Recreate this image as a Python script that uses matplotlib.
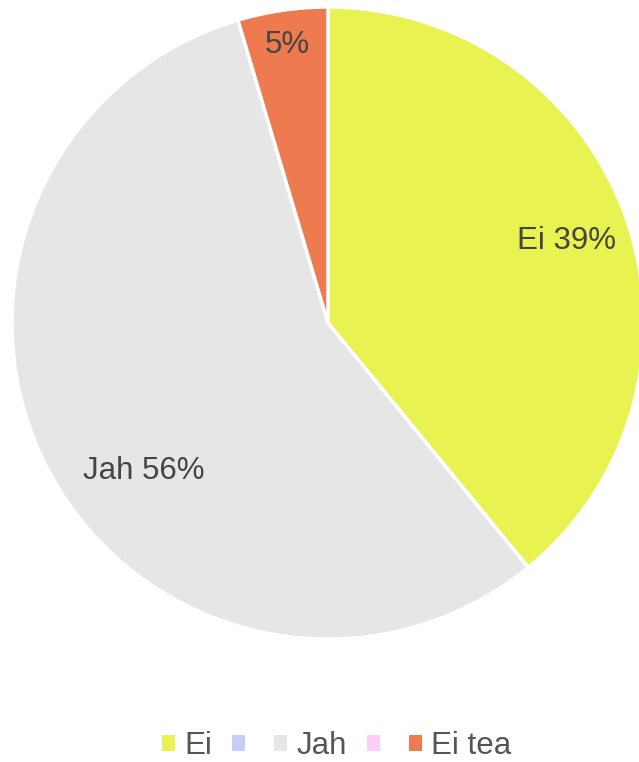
import matplotlib.pyplot as plt
import numpy as np
from matplotlib.patches import Patch

plt.rcParams['font.family'] = ['Liberation Sans', 'DejaVu Sans']

labels = ['Ei', '', 'Jah', '', 'Ei tea']
counts = [34, 0, 49, 0, 4]
colors = ['#e8f251', '#c5cefb', '#e6e6e6', '#fdcefc', '#ee7a4f']
# label distance from centre, as a fraction of the radius
label_r = [0.8, 0.8, 0.74, 0.8, 0.9]
# where along the slice the label sits (0.5 = middle)
label_f = [0.5, 0.5, 0.55, 0.5, 0.5]

fig = plt.figure(figsize=(6.39, 7.62), dpi=100)
ax = fig.add_axes([12/639, 123/762, 632/639, 632/762])

total = float(sum(counts))
wedges, _ = ax.pie(counts, colors=colors, startangle=90, counterclock=False,
                   radius=1, wedgeprops=dict(edgecolor='white', linewidth=2.5))

for i, w in enumerate(wedges):
    if counts[i] == 0:
        continue
    pct = 100 * counts[i] / total
    txt = '%.0f%%' % pct
    if i != 4:
        txt = labels[i] + ' ' + txt
    ang = np.deg2rad(w.theta1 + label_f[i] * (w.theta2 - w.theta1))
    ax.text(label_r[i] * np.cos(ang), label_r[i] * np.sin(ang), txt,
            ha='center', va='center_baseline', fontsize=22.5, color='#444444')

ax.set_xlim(-1, 1)
ax.set_ylim(-1, 1)
ax.set_aspect('equal')
ax.axis('off')

handles = [Patch(facecolor=c, edgecolor='none') for c in colors]
fig.legend(handles, labels, loc='center', bbox_to_anchor=(0.527, 1 - 746/762),
           ncol=5, frameon=False, fontsize=22.5, handlelength=0.4, handleheight=0.4,
           handletextpad=0.3, columnspacing=0.65, labelcolor='#555555',
           borderpad=0.1)

fig.savefig('out.png', dpi=100)
